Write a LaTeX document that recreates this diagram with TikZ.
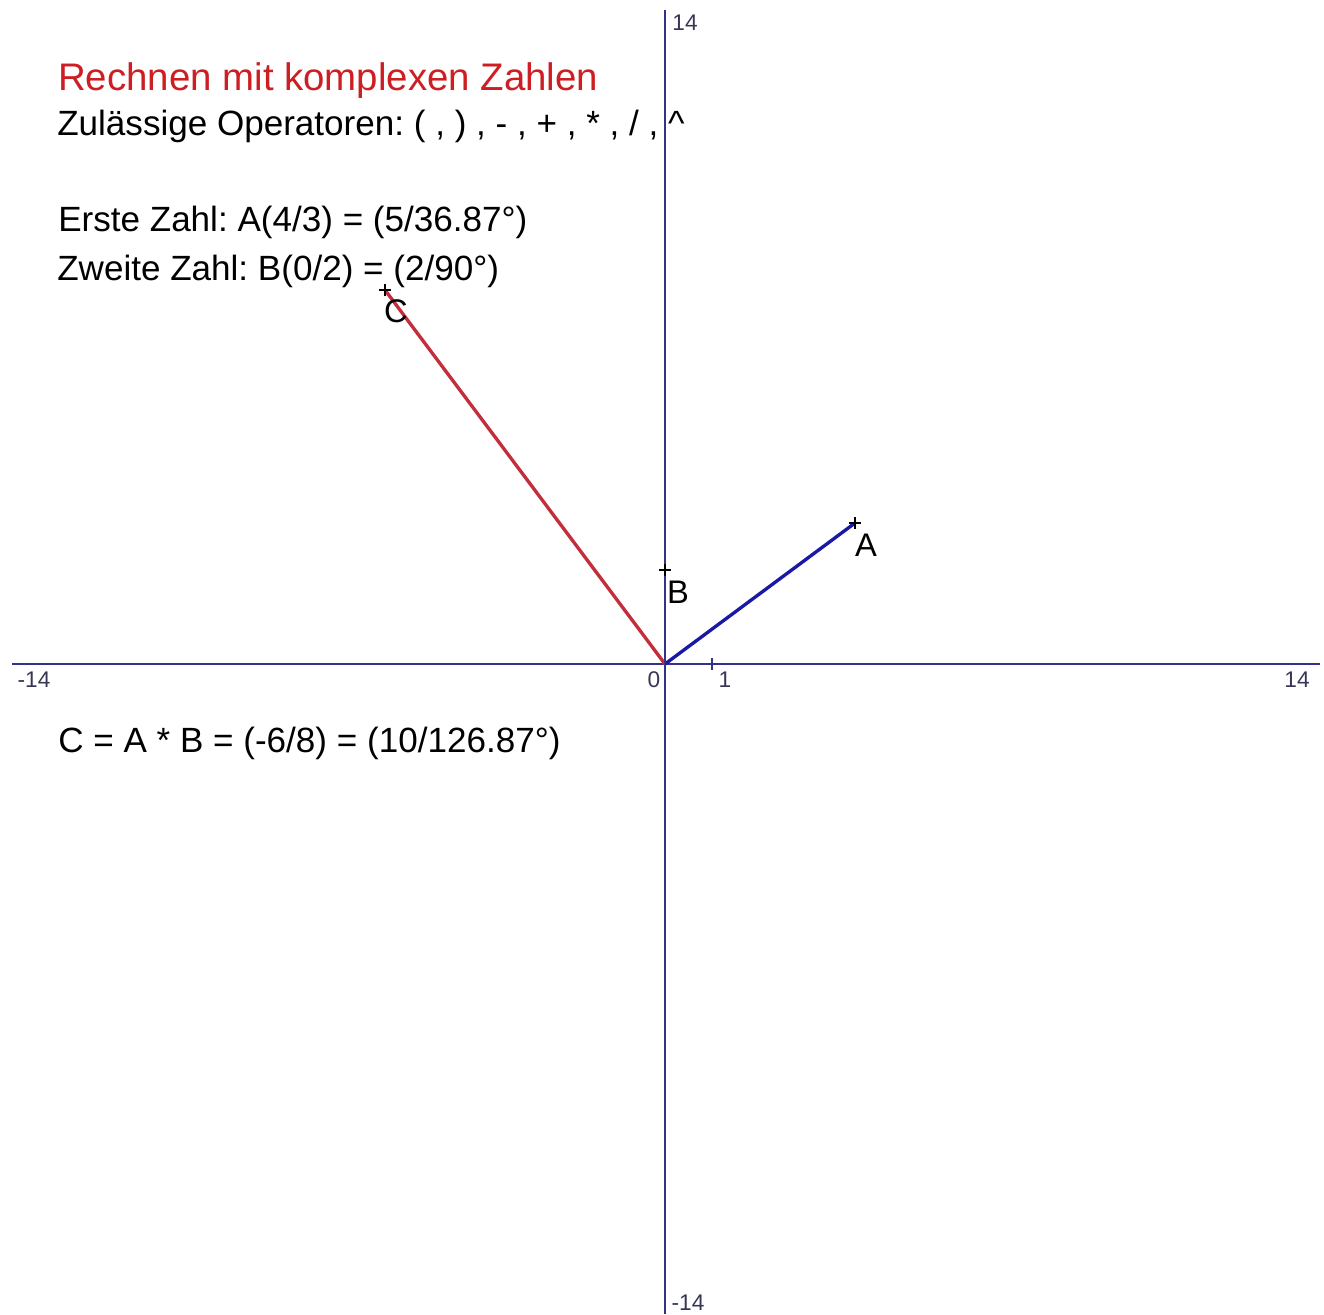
\documentclass[tikz,border=0pt]{standalone}
\usepackage{fontspec}
\setmainfont{Liberation Sans}
\definecolor{axiscol}{RGB}{50,50,140}
\definecolor{vecblue}{RGB}{25,25,165}
\definecolor{vecred}{RGB}{195,45,60}
\definecolor{titlered}{RGB}{205,30,35}
\definecolor{labgray}{RGB}{55,55,85}
\begin{document}
\frenchspacing
\begin{tikzpicture}[x=0.75pt,y=-0.75pt,
  axis/.style={draw=axiscol,line width=1.6pt},
  vecA/.style={draw=vecblue,line width=2.5pt},
  vecB/.style={draw=axiscol,line width=2.2pt},
  vecC/.style={draw=vecred,line width=2.5pt},
  marker/.style={draw=black,line width=1.6pt},
  txt/.style={anchor=base west,inner sep=0pt,font=\fontsize{26.3}{30}\selectfont,text=black},
  title/.style={anchor=base west,inner sep=0pt,font=\fontsize{28.8}{32}\selectfont,text=titlered},
  ticklab/.style={inner sep=0pt,font=\fontsize{17}{19}\selectfont,text=labgray},
  ptlab/.style={inner sep=0pt,font=\fontsize{24.5}{27}\selectfont,text=black}]
\useasboundingbox (0,0) rectangle (1324,1314);
\fill[white] (0,0) rectangle (1324,1314);
% axes
\coordinate (O) at (665,664);
\coordinate (xl) at (12,664);
\coordinate (xr) at (1320,664);
\coordinate (yt) at (665,10);
\coordinate (yb) at (665,1314);
\draw[axis] (xl) -- (xr);
\draw[axis] (yt) -- (yb);
\coordinate (t1) at (712,664);
\draw[axis,line width=1.3pt] (t1) ++(0,-6) -- ++(0,12);
% axis labels
\node[ticklab] (lxm) at (34,680) {-14};
\node[ticklab] (lxp) at (1297,680) {14};
\node[ticklab] (l0) at (654,680) {0};
\node[ticklab] (l1) at (725,680) {1};
\node[ticklab] (lyp) at (685,23) {14};
\node[ticklab] (lym) at (688,1303) {-14};
% vectors
\coordinate (A) at (855,523);
\coordinate (B) at (665,570);
\coordinate (C) at (385,290);
\draw[vecC] (O) -- (C);
\draw[vecA] (O) -- (A);
\draw[vecB] (O) -- (B);
\draw[marker] (A) ++(-6,0) -- ++(12,0) (A) ++(0,-6) -- ++(0,12);
\draw[marker] (B) ++(-6,0) -- ++(12,0) (B) ++(0,-6) -- ++(0,12);
\draw[marker] (C) ++(-6,0) -- ++(12,0) (C) ++(0,-6) -- ++(0,12);
\node[ptlab] (la) at (866,545) {A};
\node[ptlab] (lb) at (678,592) {B};
\node[ptlab] (lc) at (396,311) {C};
% texts
\node[title] (t0) at (58,90) {Rechnen mit komplexen Zahlen};
\node[txt] (t2) at (57,135) {Zulässige Operatoren: ( , ) , - , + , * , / , \^{}};
\node[txt] (t3) at (58,231) {Erste Zahl: A(4/3) = (5/36.87°)};
\node[txt] (t4) at (57,280) {Zweite Zahl: B(0/2) = (2/90°)};
\node[txt] (t5) at (58,752) {C = A * B = (-6/8) = (10/126.87°)};
\end{tikzpicture}
\end{document}
